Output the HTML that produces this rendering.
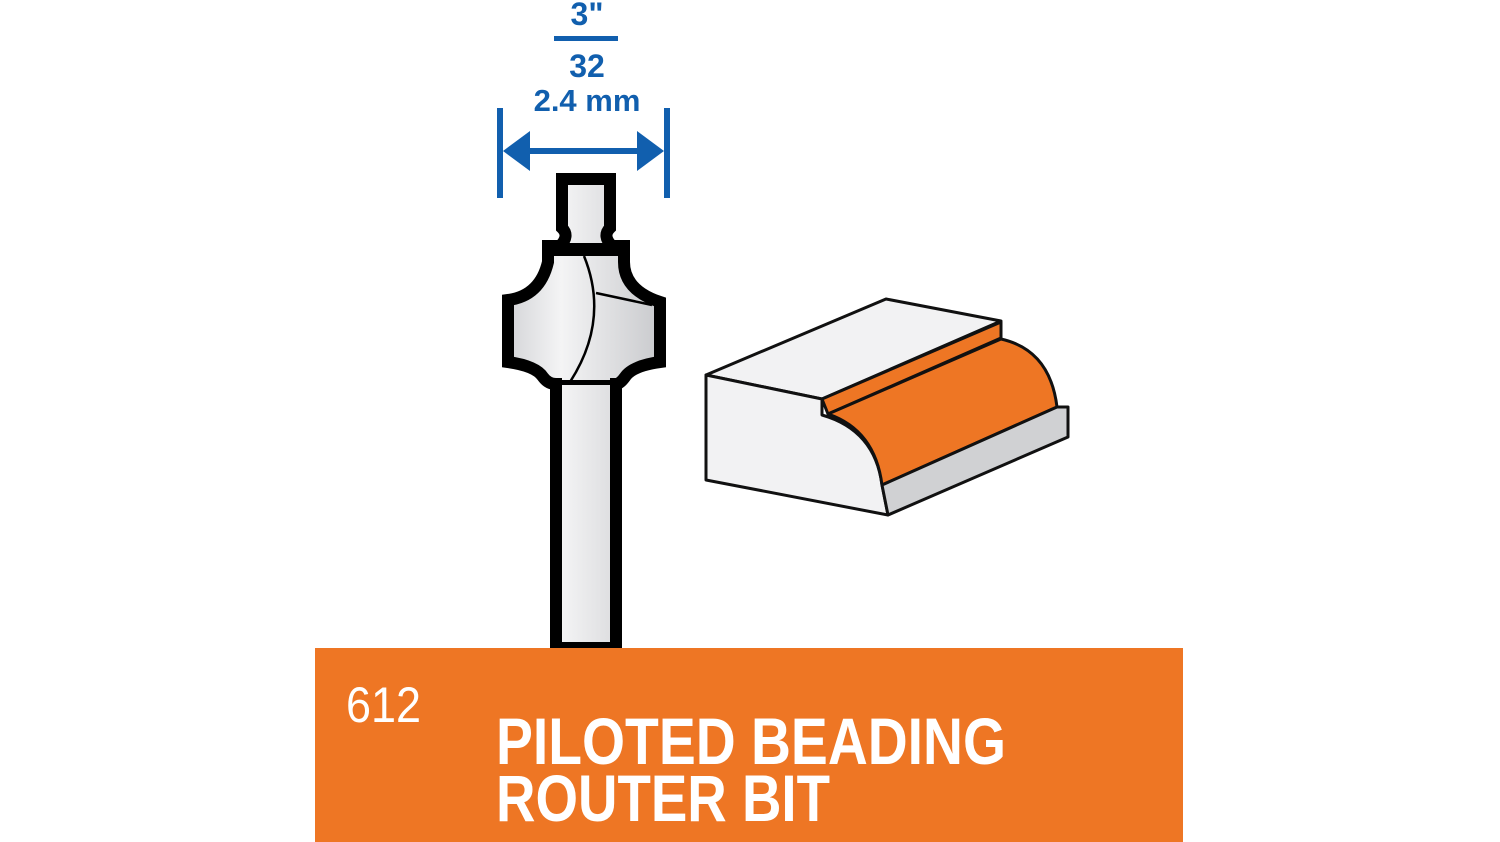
<!DOCTYPE html>
<html><head><style>html,body{margin:0;padding:0;background:#fff}svg{display:block}</style></head>
<body>
<svg width="1500" height="842" viewBox="0 0 1500 842" xmlns="http://www.w3.org/2000/svg">
<defs>
<linearGradient id="g" x1="0" x2="1" y1="0" y2="0">
<stop offset="0" stop-color="#d4d5d8"/><stop offset="0.35" stop-color="#f4f4f5"/><stop offset="1" stop-color="#c9cacd"/>
</linearGradient>
</defs>
<!-- blue dimension -->
<g fill="#115fae" font-family="Liberation Sans, sans-serif" font-weight="bold" text-anchor="middle">
<text x="587" y="25" font-size="32">3"</text>
<rect x="554" y="36" width="64" height="5"/>
<text x="587" y="77" font-size="32">32</text>
<text x="587" y="111" font-size="31">2.4 mm</text>
<rect x="497" y="108" width="6" height="90"/>
<rect x="664" y="108" width="6" height="90"/>
<rect x="525" y="148" width="118" height="6"/>
<polygon points="503,151 530,131 530,171"/>
<polygon points="664,151 637,131 637,171"/>
</g>
<!-- workpiece -->
<g stroke="#111" stroke-width="3" stroke-linejoin="round">
<polygon points="706,375 886,299 1001,321 822,399" fill="#f2f2f3"/>
<polygon points="822,399 1001,322 1001,338 828,414" fill="#ee7624"/>
<path d="M706,375 L822,399 L822,415 Q875,430 882,485 L888,515 L706,480 Z" fill="#f2f2f3"/>
<path d="M828,414 L1001,339 Q1050,350 1057,407 L882,485 Q875,430 828,414 Z" fill="#ee7624"/>
<polygon points="882,485 1057,407 1068,407 1068,437 888,515" fill="#d0d1d3"/>
</g>
<!-- bit -->
<path d="M562,179 H610 V228 Q602,236 612,246 H624 V262 Q624,290 660,302 V362 Q632,366 625,377 Q620,384 616,384 V648 H556 V384 Q548,384 543,377 Q536,366 508,362 V300 Q540,296 548,262 V246 H560 Q570,236 562,228 Z" fill="url(#g)" stroke="#000" stroke-width="12" stroke-linejoin="miter"/>
<rect x="549" y="243" width="76" height="13" fill="#000"/>
<rect x="552" y="380" width="68" height="5" fill="#000"/>
<path d="M584,256 Q610,320 570,382" fill="none" stroke="#000" stroke-width="2.5"/>
<path d="M596,293 L652,305" fill="none" stroke="#000" stroke-width="2.5"/>
<!-- orange band -->
<rect x="315" y="648" width="868" height="194" fill="#ee7624"/>
<g fill="#fff" font-family="Liberation Sans, sans-serif">
<text x="346" y="722" font-size="50" textLength="75" lengthAdjust="spacingAndGlyphs">612</text>
<text x="496" y="764" font-size="66" font-weight="bold" textLength="510" lengthAdjust="spacingAndGlyphs">PILOTED BEADING</text>
<text x="496" y="821" font-size="66" font-weight="bold" textLength="334" lengthAdjust="spacingAndGlyphs">ROUTER BIT</text>
</g>
</svg>
</body></html>
